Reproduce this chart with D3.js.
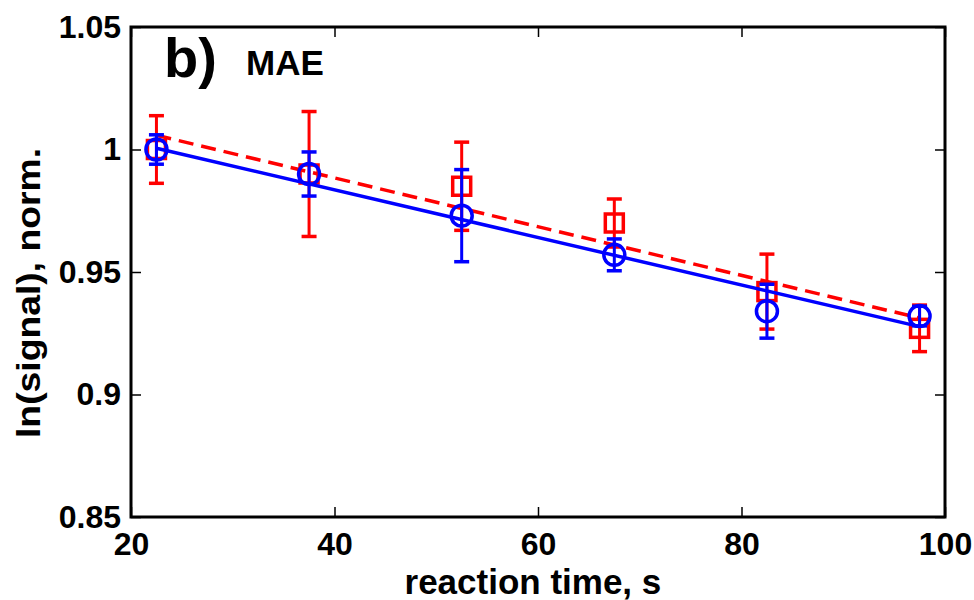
<!DOCTYPE html>
<html>
<head>
<meta charset="utf-8">
<script src="https://cdn.jsdelivr.net/npm/d3@7"></script>
<style>
	body { margin: 0; background: #fff; }
	svg text { font-family: "Liberation Sans", Arial, sans-serif; font-weight: bold; }
</style>
</head>
<body>
<div id="chart"></div>
<script>

// reaction times, s
var times = [22.5, 37.5, 52.5, 67.5, 82.5, 97.5]

// red squares with error bars
var redVals = [1.000, 0.990, 0.985, 0.970, 0.942, 0.927]
var redErrs = [0.0138, 0.0255, 0.018, 0.0098, 0.0153, 0.0095]

// blue circles with error bars
var blueVals = [1.000, 0.990, 0.973, 0.957, 0.934, 0.932]
var blueErrs = [0.006, 0.009, 0.0188, 0.0065, 0.011, 0.004]

// linear fits, evaluated at the ends
var fitTimes = [22.5, 97.5]
var redFit = [1.0058, 0.9312]
var blueFit = [1.0005, 0.9277]

var xTicks = [20, 40, 60, 80, 100]
var yTicks = [0.85, 0.9, 0.95, 1, 1.05]

var W = 974, H = 600
var margin = {
	'top' : 27,
	'right' : 29,
	'bottom' : 83,
	'left' : 131
}
var innerW = W - margin.left - margin.right
var innerH = H - margin.top - margin.bottom

var xScale = d3.scaleLinear().domain([20, 100]).range([0, innerW])
var yScale = d3.scaleLinear().domain([0.85, 1.05]).range([innerH, 0])

var svg = d3.select('#chart')
	.append('svg')
	.attr('width', W)
	.attr('height', H)

var g = svg.append('g')
	.attr('transform', 'translate('+margin.left+','+margin.top+')')

var fmt = function(d) { return String(d) }

// axes, ticks pointing inward
var styleAxis = function(sel, size) {
	sel.select('.domain').remove()
	sel.selectAll('.tick line').attr('stroke', '#000').attr('stroke-width', 1.5)
	sel.selectAll('.tick text').attr('fill', '#000').style('font-size', size + 'px')
}

g.append('g')
	.attr('transform', 'translate(0,'+innerH+')')
	.call(d3.axisBottom(xScale).tickValues(xTicks).tickFormat(fmt).tickSize(-10).tickSizeOuter(0).tickPadding(15))
	.call(styleAxis, 32)

g.append('g')
	.call(d3.axisTop(xScale).tickValues(xTicks).tickFormat('').tickSize(-10).tickSizeOuter(0))
	.call(styleAxis, 32)

g.append('g')
	.call(d3.axisLeft(yScale).tickValues(yTicks).tickFormat(fmt).tickSize(-10).tickSizeOuter(0).tickPadding(10))
	.call(styleAxis, 32)

g.append('g')
	.attr('transform', 'translate('+innerW+',0)')
	.call(d3.axisRight(yScale).tickValues(yTicks).tickFormat('').tickSize(-10).tickSizeOuter(0))
	.call(styleAxis, 32)

// frame
g.append('rect')
	.attr('width', innerW)
	.attr('height', innerH)
	.attr('fill', 'none')
	.attr('stroke', '#000')
	.attr('stroke-width', 3)

var drawSeries = function(vals, errs, color, marker) {
	var s = g.append('g')
	var pts = times.map(function(t, i) { return {t: t, v: vals[i], e: errs[i]} })

	var bars = s.selectAll('.eb')
		.data(pts)
		.enter()
		.append('g')
		.attr('class', 'eb')
		.attr('stroke', color)
		.attr('stroke-width', 3)
		.attr('fill', 'none')

	bars.append('line')
		.attr('x1', function(d) { return xScale(d.t) })
		.attr('x2', function(d) { return xScale(d.t) })
		.attr('y1', function(d) { return yScale(d.v + d.e) })
		.attr('y2', function(d) { return yScale(d.v - d.e) })

	;[1, -1].forEach(function(sign) {
		bars.append('line')
			.attr('x1', function(d) { return xScale(d.t) - 7.5 })
			.attr('x2', function(d) { return xScale(d.t) + 7.5 })
			.attr('y1', function(d) { return yScale(d.v + sign * d.e) })
			.attr('y2', function(d) { return yScale(d.v + sign * d.e) })
			.attr('stroke-width', 3.5)
	})

	if (marker == 'square') {
		bars.append('rect')
			.attr('x', function(d) { return xScale(d.t) - 9 })
			.attr('y', function(d) { return yScale(d.v) - 9 })
			.attr('width', 18)
			.attr('height', 18)
			.attr('stroke-width', 3.5)
	} else {
		bars.append('circle')
			.attr('cx', function(d) { return xScale(d.t) })
			.attr('cy', function(d) { return yScale(d.v) })
			.attr('r', 10.5)
			.attr('stroke-width', 3.5)
	}
}

var drawFit = function(fit, color, dash) {
	g.append('path')
		.datum(fitTimes.map(function(t, i) { return [t, fit[i]] }))
		.attr('d', d3.line()
			.x(function(d) { return xScale(d[0]) })
			.y(function(d) { return yScale(d[1]) }))
		.attr('fill', 'none')
		.attr('stroke', color)
		.attr('stroke-width', 3.5)
		.attr('stroke-dasharray', dash)
}

drawSeries(redVals, redErrs, '#ff0000', 'square')
drawFit(redFit, '#ff0000', '15,8')
drawSeries(blueVals, blueErrs, '#0000ff', 'circle')
drawFit(blueFit, '#0000ff', null)

// panel label
g.append('text')
	.attr('x', 33)
	.attr('y', 50)
	.style('font-size', '56px')
	.text('b)')

g.append('text')
	.attr('x', 115)
	.attr('y', 48)
	.style('font-size', '35px')
	.text('MAE')

// axis labels
svg.append('text')
	.attr('x', margin.left + xScale(59.5))
	.attr('y', 594)
	.attr('text-anchor', 'middle')
	.style('font-size', '35px')
	.text('reaction time, s')

svg.append('text')
	.attr('transform', 'translate(40,293) rotate(-90)')
	.attr('text-anchor', 'middle')
	.attr('textLength', 290)
	.attr('lengthAdjust', 'spacingAndGlyphs')
	.style('font-size', '34px')
	.text('ln(signal), norm.')

</script>
</body>
</html>
